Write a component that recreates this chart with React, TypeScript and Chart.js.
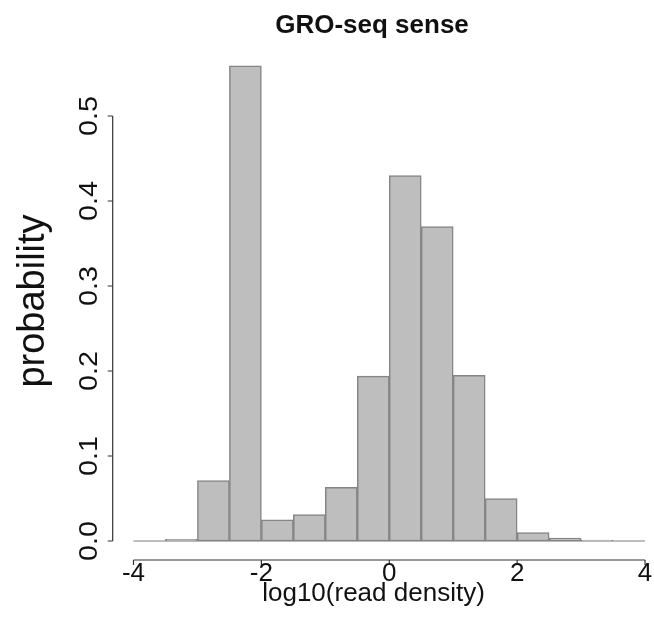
import { useEffect, useRef } from "react";
import { Chart, registerables } from "chart.js";

Chart.register(...registerables);

// ---- data ----
const breaks = [-4, -3.5, -3, -2.5, -2, -1.5, -1, -0.5, 0, 0.5, 1, 1.5, 2, 2.5, 3, 3.5, 4];
const probability = [0, 0.002, 0.071, 0.559, 0.025, 0.031, 0.063, 0.194, 0.43, 0.37, 0.195, 0.05, 0.01, 0.0035, 0.001, 0];
const xTicks = [-4, -2, 0, 2, 4];
const xTickLabels = ["-4", "-2", "0", "2", "4"];
const yTicks = [0, 0.1, 0.2, 0.3, 0.4, 0.5];
const yTickLabels = ["0.0", "0.1", "0.2", "0.3", "0.4", "0.5"];
const chartTitle = "GRO-seq sense";
const xTitle = "log10(read density)";
const yTitle = "probability";

const FONT = '"Liberation Sans", Arial, Helvetica, sans-serif';

export default function App() {
  const ref = useRef<HTMLCanvasElement | null>(null);

  useEffect(() => {
    if (!ref.current) return;
    const points = probability.map((p, i) => ({ x: (breaks[i] + breaks[i + 1]) / 2, y: p }));

    const axesPlugin = {
      id: "rAxes",
      beforeDatasetsDraw(chart: any) {
        const ctx = chart.ctx;
        const xs = chart.scales.x;
        const ys = chart.scales.y;
        ctx.save();
        ctx.strokeStyle = "#a8a8a8";
        ctx.lineWidth = 1.5;
        ctx.beginPath();
        const y0 = ys.getPixelForValue(0);
        ctx.moveTo(xs.getPixelForValue(breaks[0]), y0);
        ctx.lineTo(xs.getPixelForValue(breaks[breaks.length - 1]), y0);
        ctx.stroke();
        ctx.restore();
      },
      afterDraw(chart: any) {
        const ctx = chart.ctx;
        const xs = chart.scales.x;
        const ys = chart.scales.y;
        const area = chart.chartArea;
        ctx.save();
        ctx.strokeStyle = "#333";
        ctx.fillStyle = "#111";
        ctx.lineWidth = 1.2;

        // y axis
        const ax = area.left;
        ctx.beginPath();
        ctx.moveTo(ax, ys.getPixelForValue(yTicks[0]));
        ctx.lineTo(ax, ys.getPixelForValue(yTicks[yTicks.length - 1]));
        yTicks.forEach((t) => {
          const py = ys.getPixelForValue(t);
          ctx.moveTo(ax, py);
          ctx.lineTo(ax - 5, py);
        });
        ctx.stroke();
        ctx.font = `25px ${FONT}`;
        ctx.textAlign = "center";
        ctx.textBaseline = "alphabetic";
        yTicks.forEach((t, i) => {
          const py = ys.getPixelForValue(t);
          ctx.save();
          ctx.translate(97, py);
          ctx.rotate(-Math.PI / 2);
          ctx.scale(1.15, 1);
          ctx.fillText(yTickLabels[i], 0, 0);
          ctx.restore();
        });

        // x axis
        const ay = area.bottom;
        ctx.beginPath();
        ctx.moveTo(xs.getPixelForValue(xTicks[0]), ay);
        ctx.lineTo(xs.getPixelForValue(xTicks[xTicks.length - 1]), ay);
        xTicks.forEach((t) => {
          const px = xs.getPixelForValue(t);
          ctx.moveTo(px, ay);
          ctx.lineTo(px, ay + 5);
        });
        ctx.stroke();
        ctx.font = `26px ${FONT}`;
        xTicks.forEach((t, i) => {
          const px = xs.getPixelForValue(t);
          ctx.fillText(xTickLabels[i], px, 581);
        });

        // axis titles
        ctx.font = `26px ${FONT}`;
        ctx.fillText(xTitle, 373.5, 601);

        ctx.save();
        ctx.font = `38px ${FONT}`;
        ctx.translate(44, 301);
        ctx.rotate(-Math.PI / 2);
        ctx.fillText(yTitle, 0, 0);
        ctx.restore();

        // main title
        ctx.font = `bold 26px ${FONT}`;
        ctx.fillText(chartTitle, 372, 33);
        ctx.restore();
      },
    };

    const chart = new Chart(ref.current, {
      type: "bar",
      data: {
        datasets: [
          {
            data: points,
            backgroundColor: "#bebebe",
            borderColor: "#858585",
            borderWidth: 1.5,
            borderSkipped: false,
            barPercentage: 1,
            categoryPercentage: 1,
          },
        ],
      },
      options: {
        responsive: false,
        animation: false,
        devicePixelRatio: 1,
        layout: { padding: { left: 112.7, right: 0, top: 40, bottom: 61 } },
        plugins: { legend: { display: false }, tooltip: { enabled: false }, title: { display: false } },
        scales: {
          x: { type: "linear", display: false, min: -4.325, max: 4.14, offset: false },
          y: { type: "linear", display: false, min: -0.02235, max: 0.5894 },
        },
      },
      plugins: [axesPlugin],
    });
    return () => chart.destroy();
  }, []);

  return (
    <canvas
      ref={ref}
      width={654}
      height={621}
      style={{ position: "absolute", left: 0, top: 0, width: 654, height: 621, background: "#fff" }}
    />
  );
}
